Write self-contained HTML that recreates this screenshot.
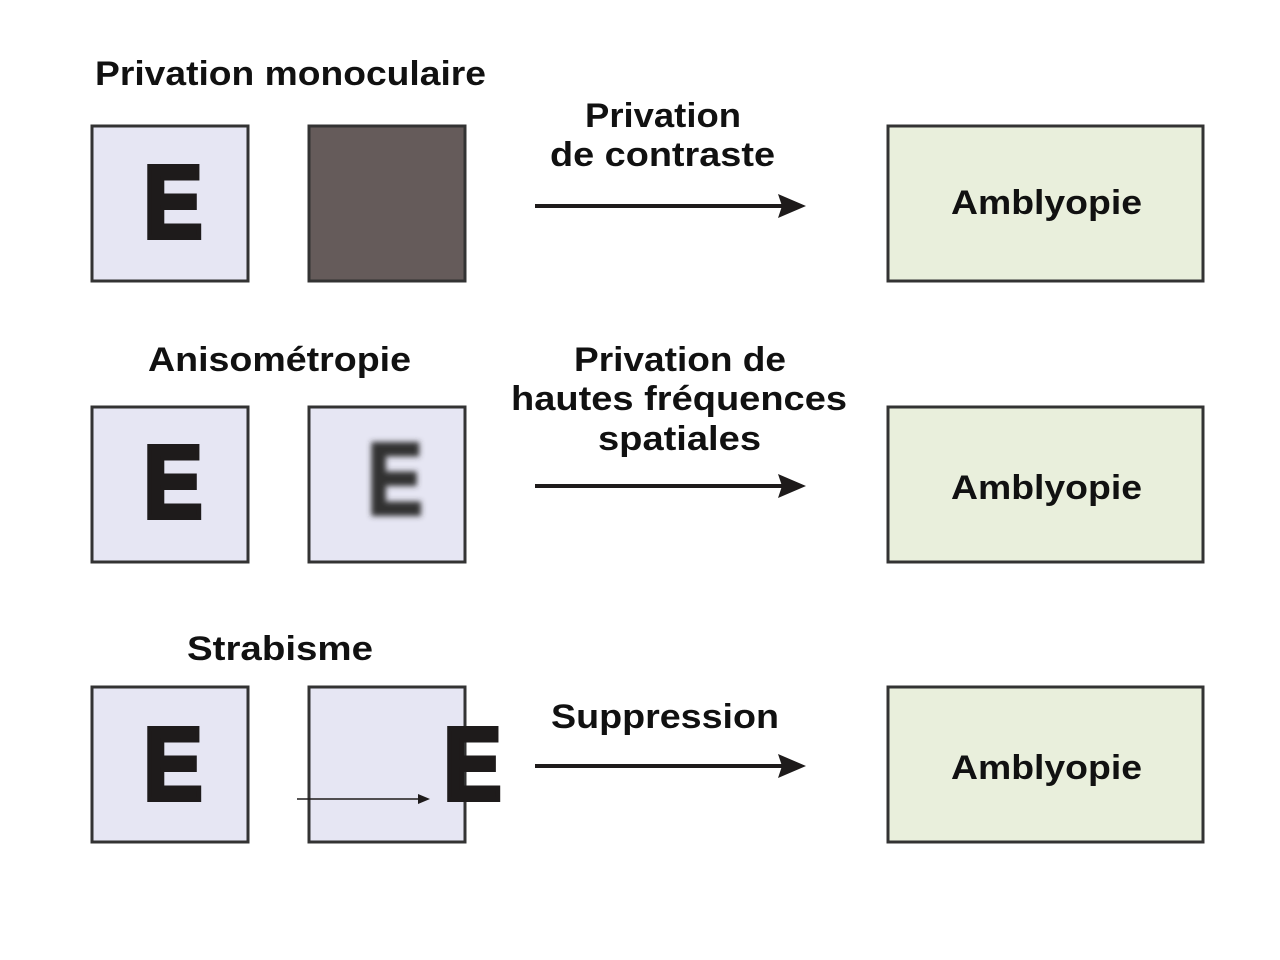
<!DOCTYPE html>
<html><head><meta charset="utf-8"><style>body{margin:0;background:#fff}svg{display:block}</style></head>
<body>
<svg width="1280" height="960" xmlns="http://www.w3.org/2000/svg" font-family="Liberation Sans, Arial, sans-serif" font-weight="bold">
<defs>
<filter id="bl" x="-20%" y="-20%" width="140%" height="140%"><feGaussianBlur stdDeviation="3"/></filter>
</defs>
<g fill="#e6e6f3" stroke="#333" stroke-width="3">
<rect x="92" y="126" width="156" height="155"/>
<rect x="92" y="407" width="156" height="155"/>
<rect x="309" y="407" width="156" height="155"/>
<rect x="92" y="687" width="156" height="155"/>
<rect x="309" y="687" width="156" height="155"/>
</g>
<rect x="309" y="126" width="156" height="155" fill="#655b5a" stroke="#333" stroke-width="3"/>
<g fill="#e9efdc" stroke="#333" stroke-width="3">
<rect x="888" y="126" width="315" height="155"/>
<rect x="888" y="407" width="315" height="155"/>
<rect x="888" y="687" width="315" height="155"/>
</g>
<g fill="#1e1b1b" stroke="#1e1b1b" stroke-width="5" stroke-linejoin="miter" font-size="103">
<text x="143.5" y="237.5" textLength="59" lengthAdjust="spacingAndGlyphs">E</text>
<text x="143.5" y="517.5" textLength="59" lengthAdjust="spacingAndGlyphs">E</text>
<text x="143.5" y="799.5" textLength="59" lengthAdjust="spacingAndGlyphs">E</text>
<text x="443.5" y="799.5" textLength="58" lengthAdjust="spacingAndGlyphs">E</text>
<text x="367" y="514.5" textLength="56" lengthAdjust="spacingAndGlyphs" filter="url(#bl)" fill="#333" stroke="#333" stroke-width="3">E</text>
</g>
<g stroke="#1e1b1b" stroke-width="1.5"><line x1="297" y1="799" x2="422" y2="799"/></g>
<polygon points="430,799 418,794 418,804" fill="#1e1b1b"/>
<g stroke="#1e1b1b" stroke-width="4">
<line x1="535" y1="206" x2="790" y2="206"/>
<line x1="535" y1="486" x2="790" y2="486"/>
<line x1="535" y1="766" x2="790" y2="766"/>
</g>
<g fill="#1e1b1b">
<polygon points="806,206 778,194 782,206 778,218"/>
<polygon points="806,486 778,474 782,486 778,498"/>
<polygon points="806,766 778,754 782,766 778,778"/>
</g>
<g fill="#111" font-size="34">
<text x="95" y="85" textLength="391" lengthAdjust="spacingAndGlyphs">Privation monoculaire</text>
<text x="148" y="371" textLength="263" lengthAdjust="spacingAndGlyphs">Anisométropie</text>
<text x="187" y="660" textLength="186" lengthAdjust="spacingAndGlyphs">Strabisme</text>
<text x="585" y="127" textLength="156" lengthAdjust="spacingAndGlyphs">Privation</text>
<text x="550" y="166" textLength="225" lengthAdjust="spacingAndGlyphs">de contraste</text>
<text x="574" y="371" textLength="212" lengthAdjust="spacingAndGlyphs">Privation de</text>
<text x="511" y="410" textLength="336" lengthAdjust="spacingAndGlyphs">hautes fréquences</text>
<text x="598" y="450" textLength="163" lengthAdjust="spacingAndGlyphs">spatiales</text>
<text x="551" y="728" textLength="228" lengthAdjust="spacingAndGlyphs">Suppression</text>
<text x="951" y="214" textLength="191" lengthAdjust="spacingAndGlyphs">Amblyopie</text>
<text x="951" y="499" textLength="191" lengthAdjust="spacingAndGlyphs">Amblyopie</text>
<text x="951" y="779" textLength="191" lengthAdjust="spacingAndGlyphs">Amblyopie</text>
</g>
</svg>
</body></html>
